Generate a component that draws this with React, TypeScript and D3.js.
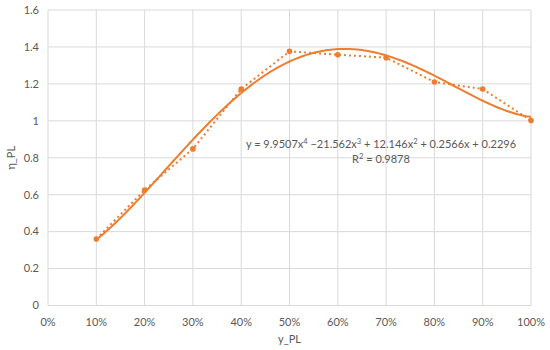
import { useEffect, useRef } from "react"
import * as d3 from "d3"

// data
const xValues = [0.1, 0.2, 0.3, 0.4, 0.5, 0.6, 0.7, 0.8, 0.9, 1.0]
const yValues = [0.36, 0.625, 0.848, 1.172, 1.376, 1.358, 1.342, 1.21, 1.172, 1.002]
// trendline coefficients shown on the chart (x^4 .. x^0)
const trendCoefs = [9.9507, -21.562, 12.146, 0.2566, 0.2296]
const xTicks = [0, 0.1, 0.2, 0.3, 0.4, 0.5, 0.6, 0.7, 0.8, 0.9, 1.0]
const yTicks = [0, 0.2, 0.4, 0.6, 0.8, 1, 1.2, 1.4, 1.6]

const ORANGE = "#ED7D31"
const TEXT = "#595959"
const GRID = "#D9D9D9"
const FONT = "Lato, 'Open Sans', sans-serif"
const FS = "11px"

export default function App() {
  const svgRef = useRef<SVGSVGElement>(null)

  useEffect(() => {
    if (!svgRef.current) return
    const svg = d3.select(svgRef.current)
    svg.selectAll("*").remove()

    const width = 550
    const height = 350
    const margin = { top: 10, right: 19, bottom: 44.5, left: 48 }

    const x = d3.scaleLinear().domain([0, 1]).range([margin.left, width - margin.right])
    const y = d3.scaleLinear().domain([0, 1.6]).range([height - margin.bottom, margin.top])

    // gridlines
    svg
      .append("g")
      .selectAll("line.h")
      .data(yTicks)
      .enter()
      .append("line")
      .attr("x1", x(0))
      .attr("x2", x(1))
      .attr("y1", (d) => y(d))
      .attr("y2", (d) => y(d))
      .attr("stroke", GRID)
      .attr("stroke-width", 1)

    svg
      .append("g")
      .selectAll("line.v")
      .data(xTicks)
      .enter()
      .append("line")
      .attr("x1", (d) => x(d))
      .attr("x2", (d) => x(d))
      .attr("y1", y(0))
      .attr("y2", y(1.6))
      .attr("stroke", GRID)
      .attr("stroke-width", 1)

    // tick labels
    svg
      .append("g")
      .selectAll("text")
      .data(yTicks)
      .enter()
      .append("text")
      .attr("x", margin.left - 9)
      .attr("y", (d) => y(d))
      .attr("dy", "0.35em")
      .attr("text-anchor", "end")
      .style("font-family", FONT)
      .style("font-size", FS)
      .style("fill", TEXT)
      .text((d) => String(d))

    svg
      .append("g")
      .selectAll("text")
      .data(xTicks)
      .enter()
      .append("text")
      .attr("x", (d) => x(d))
      .attr("y", y(0) + 17)
      .attr("dy", "0.35em")
      .attr("text-anchor", "middle")
      .style("font-family", FONT)
      .style("font-size", FS)
      .style("fill", TEXT)
      .text((d) => d3.format(".0%")(d))

    // axis titles
    svg
      .append("text")
      .attr("x", (x(0) + x(1)) / 2)
      .attr("y", 339)
      .attr("dy", "0.35em")
      .attr("text-anchor", "middle")
      .style("font-family", FONT)
      .style("font-size", FS)
      .style("fill", TEXT)
      .text("y_PL")

    svg
      .append("text")
      .attr("transform", `translate(11, ${(y(0) + y(1.6)) / 2}) rotate(-90)`)
      .attr("dy", "0.35em")
      .attr("text-anchor", "middle")
      .style("font-family", FONT)
      .style("font-size", FS)
      .style("fill", TEXT)
      .text("η_PL")

    const points = xValues.map((xv, i) => [xv, yValues[i]] as [number, number])

    // dotted series line
    const line = d3
      .line<[number, number]>()
      .x((d) => x(d[0]))
      .y((d) => y(d[1]))

    svg
      .append("path")
      .datum(points)
      .attr("d", line)
      .attr("fill", "none")
      .attr("stroke", ORANGE)
      .attr("stroke-width", 2)
      .attr("stroke-dasharray", "2 3")

    // polynomial trendline
    const poly = (v: number) => trendCoefs.reduce((acc, c) => acc * v + c, 0)
    const trend = d3.range(xValues[0], xValues[xValues.length - 1] + 0.0001, 0.005).map(
      (v) => [v, poly(v)] as [number, number]
    )
    svg
      .append("path")
      .datum(trend)
      .attr("d", line)
      .attr("fill", "none")
      .attr("stroke", ORANGE)
      .attr("stroke-width", 2)

    // markers
    svg
      .append("g")
      .selectAll("circle")
      .data(points)
      .enter()
      .append("circle")
      .attr("cx", (d) => x(d[0]))
      .attr("cy", (d) => y(d[1]))
      .attr("r", 2.8)
      .attr("fill", ORANGE)

    // equation label
    const eq = svg
      .append("text")
      .attr("x", 381)
      .attr("y", 144)
      .attr("dy", "0.35em")
      .attr("text-anchor", "middle")
      .style("font-family", FONT)
      .style("font-size", FS)
      .style("fill", TEXT)
    eq.append("tspan").text("y = 9.9507x")
    eq.append("tspan").attr("baseline-shift", "super").style("font-size", "7.5px").text("4")
    eq.append("tspan").text(" \u221221.562x")
    eq.append("tspan").attr("baseline-shift", "super").style("font-size", "7.5px").text("3")
    eq.append("tspan").text(" + 12.146x")
    eq.append("tspan").attr("baseline-shift", "super").style("font-size", "7.5px").text("2")
    eq.append("tspan").text(" + 0.2566x + 0.2296")

    const r2 = svg
      .append("text")
      .attr("x", 381)
      .attr("y", 159)
      .attr("dy", "0.35em")
      .attr("text-anchor", "middle")
      .style("font-family", FONT)
      .style("font-size", FS)
      .style("fill", TEXT)
    r2.append("tspan").text("R")
    r2.append("tspan").attr("baseline-shift", "super").style("font-size", "7.5px").text("2")
    r2.append("tspan").text(" = 0.9878")
  }, [])

  return (
    <div style={{ position: "absolute", left: 0, top: 0 }}>
      <svg ref={svgRef} width={550} height={350} style={{ display: "block", background: "#fff" }}></svg>
    </div>
  )
}
